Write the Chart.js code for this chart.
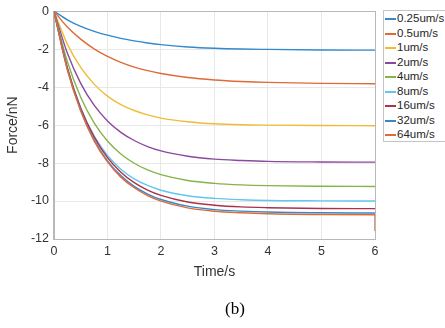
<!DOCTYPE html>
<html>
<head>
<meta charset="utf-8">
<script src="https://cdn.jsdelivr.net/npm/chart.js@4.4.1/dist/chart.umd.min.js"></script>
<style>
  html, body { margin: 0; padding: 0; background: #fff; overflow: hidden; }
  #wrap { position: relative; width: 445px; height: 328px; }
  #legend {
    position: absolute; left: 383px; top: 10px; width: 72px; height: 130px;
    border: 1px solid #c4c4c4; background: #fff;
    font-family: "Liberation Sans", Arial, sans-serif; font-size: 11.5px; color: #262626;
  }
  #legend .row { height: 14.5px; line-height: 14.5px; white-space: nowrap; position: relative; padding-left: 13px; }
  #legend .sw { position: absolute; left: 1px; top: 7px; width: 11px; height: 2px; }
  #caption {
    position: absolute; left: 200px; width: 70px; top: 299px; text-align: center;
    font-family: "Liberation Serif", "Times New Roman", serif; font-size: 17px; color: #000;
  }
</style>
</head>
<body>
<div id="wrap">
  <canvas id="chart" width="445" height="328"></canvas>
  <div id="legend"></div>
  <div id="caption">(b)</div>
</div>
<script>
const seriesNames = ["0.25um/s", "0.5um/s", "1um/s", "2um/s", "4um/s", "8um/s", "16um/s", "32um/s", "64um/s"];
const colors = ["#3389cc", "#de6a38", "#efbc36", "#8c489e", "#85b448", "#62c6ef", "#ab3248", "#3389cc", "#de6a38"];

const times = [0, 0.25, 0.5, 0.75, 1, 1.25, 1.5, 1.75, 2, 2.5, 3, 3.5, 4, 5, 6];
const times64 = [0, 0.25, 0.5, 0.75, 1, 1.25, 1.5, 1.75, 2, 2.5, 3, 3.5, 4, 5, 6, 6];

const f025 = [0, -0.45, -0.8, -1.06, -1.26, -1.43, -1.56, -1.67, -1.76, -1.88, -1.95, -1.99, -2.01, -2.04, -2.05];
const f05 = [0, -0.83, -1.47, -1.98, -2.38, -2.69, -2.94, -3.13, -3.28, -3.49, -3.62, -3.7, -3.75, -3.8, -3.82];
const f1 = [0, -1.73, -2.96, -3.84, -4.47, -4.92, -5.23, -5.46, -5.63, -5.82, -5.93, -5.98, -6.0, -6.02, -6.03];
const f2 = [0, -2.2, -3.8, -4.95, -5.78, -6.38, -6.81, -7.13, -7.36, -7.64, -7.79, -7.86, -7.91, -7.94, -7.95];
const f4 = [0, -2.65, -4.53, -5.88, -6.84, -7.52, -8.01, -8.36, -8.61, -8.92, -9.07, -9.15, -9.19, -9.22, -9.23];
const f8 = [0, -3.0, -5.1, -6.57, -7.6, -8.32, -8.83, -9.18, -9.43, -9.72, -9.86, -9.93, -9.97, -9.99, -10.0];
const f16 = [0, -2.98, -5.11, -6.62, -7.71, -8.48, -9.03, -9.42, -9.7, -10.05, -10.22, -10.31, -10.35, -10.39, -10.4];
const f32 = [0, -3.05, -5.21, -6.77, -7.88, -8.66, -9.23, -9.63, -9.92, -10.27, -10.45, -10.53, -10.58, -10.62, -10.63];
const f64 = [0, -3.08, -5.26, -6.83, -7.94, -8.74, -9.3, -9.71, -10.0, -10.36, -10.54, -10.62, -10.67, -10.71, -10.72, -11.58];

const xTicks = [0, 1, 2, 3, 4, 5, 6];
const yTicks = [0, -2, -4, -6, -8, -10, -12];

const seriesValues = [f025, f05, f1, f2, f4, f8, f16, f32, f64];
const seriesTimes = [times, times, times, times, times, times, times, times, times64];

const datasets = seriesValues.map((vals, i) => ({
  label: seriesNames[i],
  data: vals.map((v, k) => ({ x: seriesTimes[i][k], y: v })),
  borderColor: colors[i],
  borderWidth: 1.4,
  pointRadius: 0,
  fill: false,
  cubicInterpolationMode: "monotone",
  order: seriesValues.length - i
}));

// box around the plot area, like matlab axes
const frame = {
  id: "frame",
  beforeDatasetsDraw(chart) {
    const a = chart.chartArea;
    const ctx = chart.ctx;
    ctx.save();
    ctx.strokeStyle = "#b8b8b8";
    ctx.lineWidth = 1;
    ctx.strokeRect(Math.round(a.left) + 0.5, Math.round(a.top) + 0.5, Math.round(a.right - a.left), Math.round(a.bottom - a.top));
    ctx.restore();
  }
};

const tickFont = { family: "'Liberation Sans', Arial, sans-serif", size: 12.5, lineHeight: 1 };
const titleFont = { family: "'Liberation Sans', Arial, sans-serif", size: 14, lineHeight: 1.2 };

const chart = new Chart(document.getElementById("chart").getContext("2d"), {
  type: "line",
  data: { datasets },
  plugins: [frame],
  options: {
    responsive: false,
    animation: false,
    devicePixelRatio: 1,
    layout: { padding: { left: 5.1, right: 70, top: 11, bottom: 47.7 } },
    plugins: {
      legend: { display: false },
      tooltip: { enabled: false }
    },
    scales: {
      x: {
        type: "linear",
        min: 0,
        max: 6,
        afterBuildTicks: s => { s.ticks = xTicks.map(v => ({ value: v })); },
        ticks: { color: "#333", font: tickFont, padding: 6, maxRotation: 0 },
        grid: { color: "#e8e8e8", drawTicks: false },
        border: { color: "#b8b8b8" },
        title: { display: true, text: "Time/s", color: "#333", font: titleFont, padding: { top: 0, bottom: 0 } }
      },
      y: {
        type: "linear",
        min: -12,
        max: 0,
        afterBuildTicks: s => { s.ticks = yTicks.map(v => ({ value: v })); },
        ticks: { color: "#333", font: tickFont, padding: 5 },
        grid: { color: "#e8e8e8", drawTicks: false },
        border: { color: "#b8b8b8" },
        title: { display: true, text: "Force/nN", color: "#333", font: titleFont, padding: { top: 0, bottom: 4 } }
      }
    }
  }
});

const legendBox = document.getElementById("legend");
chart.data.datasets.forEach(ds => {
  const row = document.createElement("div");
  row.className = "row";
  const sw = document.createElement("span");
  sw.className = "sw";
  sw.style.background = ds.borderColor;
  row.appendChild(sw);
  row.appendChild(document.createTextNode(ds.label));
  legendBox.appendChild(row);
});
</script>
</body>
</html>
